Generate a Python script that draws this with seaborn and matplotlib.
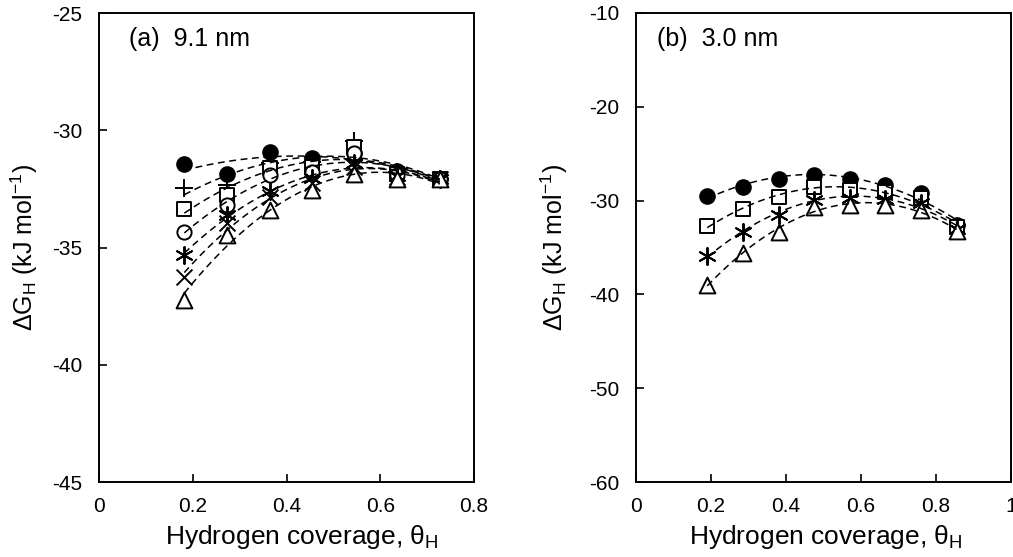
import numpy as np
import pandas as pd
import matplotlib
matplotlib.use("Agg")
import matplotlib.pyplot as plt
from matplotlib.ticker import FuncFormatter
import seaborn as sns

# ---------------- data ----------------
# Panel (a) 9.1 nm
x_a = [0.182, 0.273, 0.364, 0.455, 0.545, 0.636, 0.727]
a_filled = [-31.45, -31.85, -30.92, -31.20, -30.95, -31.75, -32.10]
a_plus = [-32.48, -32.33, -31.40, -31.35, -30.44, -31.80, -32.10]
a_square = [-33.37, -32.76, -31.62, -31.55, -30.73, -31.85, -32.10]
a_circle = [-34.33, -33.19, -31.90, -31.80, -30.97, -31.90, -32.10]
a_aster = [-35.32, -33.60, -32.60, -32.05, -31.40, -31.95, -32.10]
a_cross = [-36.27, -33.97, -32.83, -32.26, -31.55, -32.00, -32.10]
a_tri = [-37.24, -34.47, -33.40, -32.55, -31.85, -32.10, -32.10]

# Panel (b) 3.0 nm
x_b = [0.190, 0.285, 0.380, 0.475, 0.570, 0.665, 0.760, 0.855]
b_filled = [-29.50, -28.50, -27.73, -27.30, -27.65, -28.34, -29.20, -32.60]
b_square = [-32.70, -30.93, -29.58, -28.50, -28.90, -29.10, -29.76, -32.80]
b_aster = [-35.90, -33.30, -31.50, -29.90, -29.70, -29.80, -30.30, -33.00]
b_tri = [-39.00, -35.60, -33.30, -30.70, -30.50, -30.47, -31.00, -33.20]

panel_titles = ["(a)  9.1 nm", "(b)  3.0 nm"]
x_label = r"Hydrogen coverage, $\theta_\mathrm{H}$"
y_label = r"$\Delta$G$_\mathrm{H}$ (kJ mol$^{\mathrm{-1}}$)"

# ---------------- style ----------------
sns.set_theme(style="ticks")
plt.rcParams["font.family"] = ["Liberation Sans", "DejaVu Sans"]
plt.rcParams["mathtext.fontset"] = "custom"
plt.rcParams["mathtext.rm"] = "Liberation Sans"
plt.rcParams["mathtext.it"] = "Liberation Sans"
plt.rcParams["mathtext.default"] = "regular"
plt.rcParams["axes.unicode_minus"] = False

fig = plt.figure(figsize=(10.13, 5.57), dpi=100)
ax_a = fig.add_axes([99 / 1013, 75 / 557, 375 / 1013, 469 / 557])
ax_b = fig.add_axes([636 / 1013, 75 / 557, 375 / 1013, 469 / 557])

marker_style = {
    "filled": dict(marker="o", s=120, color="black", edgecolor="black", linewidth=1.0),
    "plus": dict(marker="+", s=150, color="black", linewidth=1.4),
    "square": dict(marker="s", s=95, color="white", edgecolor="black", linewidth=1.4),
    "circle": dict(marker="o", s=105, color="white", edgecolor="black", linewidth=1.4),
    "aster": dict(marker=(6, 2, 0), s=150, color="black", linewidth=1.4),
    "cross": dict(marker="x", s=130, color="black", linewidth=1.4),
    "tri": dict(marker="^", s=130, color="white", edgecolor="black", linewidth=1.4),
}

series_a = [("filled", a_filled), ("plus", a_plus), ("square", a_square),
            ("circle", a_circle), ("aster", a_aster), ("cross", a_cross),
            ("tri", a_tri)]
series_b = [("filled", b_filled), ("square", b_square), ("aster", b_aster),
            ("tri", b_tri)]


def draw(ax, xs, series):
    for key, ys in series:
        df = pd.DataFrame({"x": xs, "y": ys})
        sns.scatterplot(data=df, x="x", y="y", ax=ax, legend=False,
                        zorder=1, **marker_style[key])
    for key, ys in series:
        df = pd.DataFrame({"x": xs, "y": ys})
        sns.regplot(data=df, x="x", y="y", ax=ax, order=2, ci=None,
                    scatter=False, truncate=True,
                    line_kws=dict(color="black", lw=1.1, ls=(0, (4.5, 3)),
                                  zorder=3))


draw(ax_a, x_a, series_a)
draw(ax_b, x_b, series_b)

fmt = FuncFormatter(lambda v, p: "%g" % round(v, 6))
for ax, title, xl, yl, yt, ylabx, tx in [
    (ax_a, panel_titles[0], (0, 0.8), (-45, -25), np.arange(-45, -24, 5), -0.157, 0.08),
    (ax_b, panel_titles[1], (0, 1.0), (-60, -10), np.arange(-60, -9, 10), -0.176, 0.055),
]:
    ax.set_xlim(*xl)
    ax.set_ylim(*yl)
    ax.set_xticks(np.arange(0, xl[1] + 1e-9, 0.2))
    ax.set_yticks(yt)
    ax.xaxis.set_major_formatter(fmt)
    ax.yaxis.set_major_formatter(fmt)
    ax.tick_params(direction="in", length=6, width=1.2, labelsize=15,
                   colors="black")
    ax.tick_params(axis="x", pad=11)
    ax.tick_params(axis="y", pad=12)
    for sp in ax.spines.values():
        sp.set_visible(True)
        sp.set_linewidth(1.4)
        sp.set_color("black")
    ax.set_xlabel(x_label, fontsize=19, color="black")
    ax.set_ylabel(y_label, fontsize=18, color="black")
    ax.yaxis.set_label_coords(ylabx, 0.5)
    ax.text(tx, 0.945, title, transform=ax.transAxes,
            fontsize=18, ha="left", va="center", color="black")
    ax.set_facecolor("white")

ax_a.xaxis.set_label_coords(0.54, -0.088)
ax_b.xaxis.set_label_coords(0.505, -0.088)

fig.savefig("out.png", dpi=100, facecolor="white")
